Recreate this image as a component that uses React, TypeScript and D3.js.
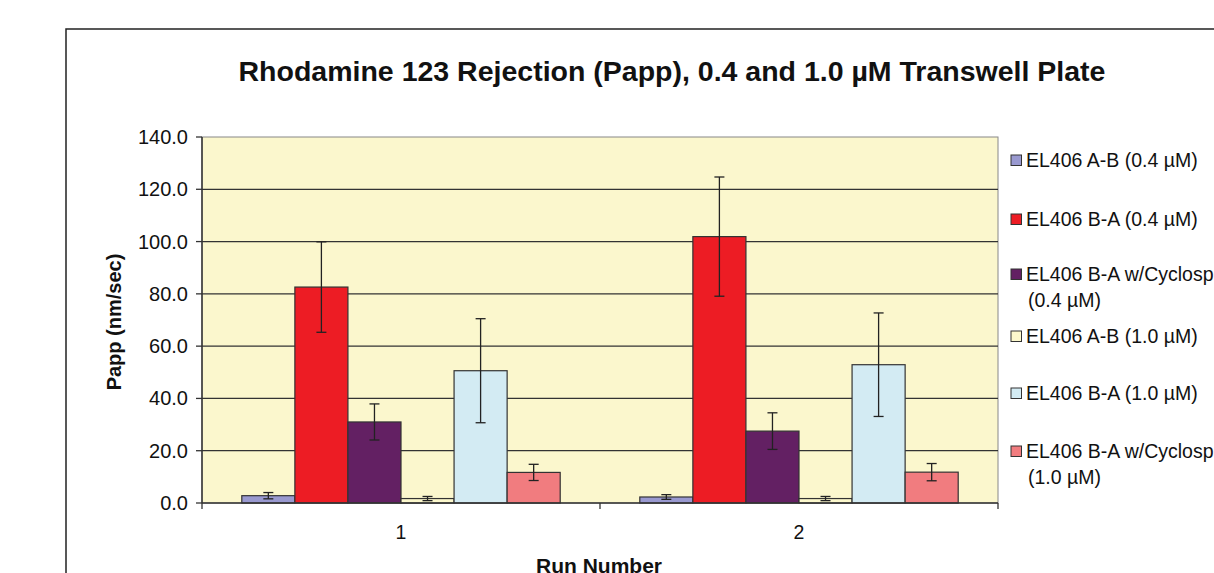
import React from "react";
import * as d3 from "d3";

const runs = ["1", "2"];
const seriesNames = [
  "EL406 A-B (0.4 µM)",
  "EL406 B-A (0.4 µM)",
  "EL406 B-A w/Cyclosp (0.4 µM)",
  "EL406 A-B (1.0 µM)",
  "EL406 B-A (1.0 µM)",
  "EL406 B-A w/Cyclosp (1.0 µM)",
];
const legendLines = [
  ["EL406 A-B (0.4 µM)"],
  ["EL406 B-A (0.4 µM)"],
  ["EL406 B-A w/Cyclosp", "(0.4 µM)"],
  ["EL406 A-B (1.0 µM)"],
  ["EL406 B-A (1.0 µM)"],
  ["EL406 B-A w/Cyclosp", "(1.0 µM)"],
];
const seriesColors = ["#9999D0", "#ED1C24", "#632063", "#FCF8CC", "#D3EBF3", "#F17C7F"];
// values per series: [run1, run2]
const means = [
  [2.8, 2.3],
  [82.6, 101.9],
  [31.0, 27.5],
  [1.7, 1.7],
  [50.6, 52.9],
  [11.7, 11.8],
];
const errs = [
  [1.2, 0.9],
  [17.3, 22.8],
  [6.9, 7.0],
  [0.8, 0.8],
  [19.9, 19.8],
  [3.1, 3.3],
];
const yTicks = [0, 20, 40, 60, 80, 100, 120, 140];

const W = 1214, H = 573;
const FONT = "'Liberation Sans', Arial, sans-serif";

export default function App() {
  const left = 202, right = 998, top = 137, bottom = 503;
  const x0 = d3.scaleBand().domain(runs).range([left, right]).paddingInner(0).paddingOuter(0);
  const inner = d3.scaleBand().domain(seriesNames).range([0, x0.bandwidth()]).paddingOuter(0.75).paddingInner(0);
  const y = d3.scaleLinear().domain([0, 140]).range([bottom, top]);
  const legendY = [160, 219, 274, 336, 393, 451];

  return (
    <svg width={W} height={H} style={{ position: "absolute", left: 0, top: 0, background: "#fff" }}>
      <rect x={0} y={0} width={W} height={H} fill="#fff" />
      <rect x={66} y={29} width={1300} height={700} fill="none" stroke="#222" strokeWidth={1.5} />
      <text x={672} y={81} textAnchor="middle" fontFamily={FONT} fontWeight="bold" fontSize={28.5} fill="#111">
        Rhodamine 123 Rejection (Papp), 0.4 and 1.0 µM Transwell Plate
      </text>
      <rect x={left} y={top} width={right - left} height={bottom - top} fill="#FBF7CD" stroke="#888" strokeWidth={1} />
      {yTicks.map((t) => (
        <g key={t}>
          {t > 0 && t < 140 && <line x1={left} x2={right} y1={y(t)} y2={y(t)} stroke="#333" strokeWidth={1.3} />}
          <line x1={left - 6} x2={left} y1={y(t)} y2={y(t)} stroke="#333" strokeWidth={1.3} />
          <text x={188} y={y(t) + 7} textAnchor="end" fontFamily={FONT} fontSize={20} fill="#111">
            {t.toFixed(1)}
          </text>
        </g>
      ))}
      {runs.map((r, ri) =>
        seriesNames.map((s, si) => {
          const bx = (x0(r) as number) + (inner(s) as number);
          const bw = inner.bandwidth();
          const m = means[si][ri];
          const e = errs[si][ri];
          const cx = bx + bw / 2;
          return (
            <g key={r + s}>
              <rect x={bx} y={y(m)} width={bw} height={y(0) - y(m)} fill={seriesColors[si]} stroke="#333" strokeWidth={1.2} />
              <line x1={cx} x2={cx} y1={y(m + e)} y2={y(m - e)} stroke="#222" strokeWidth={1.3} />
              <line x1={cx - 5} x2={cx + 5} y1={y(m + e)} y2={y(m + e)} stroke="#222" strokeWidth={1.3} />
              <line x1={cx - 5} x2={cx + 5} y1={y(m - e)} y2={y(m - e)} stroke="#222" strokeWidth={1.3} />
            </g>
          );
        })
      )}
      <line x1={left} x2={left} y1={top} y2={bottom} stroke="#333" strokeWidth={1.5} />
      <line x1={left} x2={right} y1={bottom} y2={bottom} stroke="#333" strokeWidth={1.5} />
      {[left, left + x0.bandwidth(), right].map((xx, i) => (
        <line key={i} x1={xx} x2={xx} y1={bottom} y2={bottom + 6} stroke="#333" strokeWidth={1.3} />
      ))}
      {runs.map((r) => (
        <text key={r} x={(x0(r) as number) + x0.bandwidth() / 2} y={539} textAnchor="middle" fontFamily={FONT} fontSize={19.5} fill="#111">
          {r}
        </text>
      ))}
      <text x={599} y={573} textAnchor="middle" fontFamily={FONT} fontWeight="bold" fontSize={21} fill="#111">
        Run Number
      </text>
      <text transform={`translate(121,${322}) rotate(-90)`} textAnchor="middle" fontFamily={FONT} fontWeight="bold" fontSize={20} fill="#111">
        Papp (nm/sec)
      </text>
      {legendLines.map((lines, i) => (
        <g key={i}>
          <rect x={1011} y={legendY[i] - 5} width={10.5} height={10.5} fill={seriesColors[i]} stroke="#333" strokeWidth={1} />
          {lines.map((ln, j) => (
            <text key={j} x={j === 0 ? 1026 : 1028} y={legendY[i] + 7 + j * 26} fontFamily={FONT} fontSize={19.5} fill="#111">
              {ln}
            </text>
          ))}
        </g>
      ))}
    </svg>
  );
}
